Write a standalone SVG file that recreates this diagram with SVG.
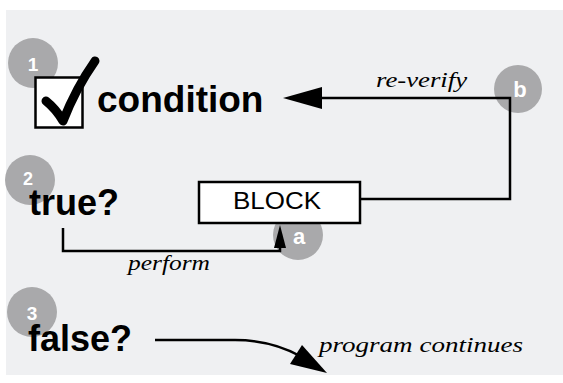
<svg xmlns="http://www.w3.org/2000/svg" width="563" height="383" viewBox="0 0 563 383">
  <style>
    .badge { fill: #a9a9ab; }
    .badge-text { fill: #ffffff; font-family: "Liberation Sans", Arial, sans-serif; font-weight: bold; text-anchor: middle; }
    .big { fill: #000; font-family: "Liberation Sans", Arial, sans-serif; font-weight: bold; }
    .label { fill: #000; font-family: "Liberation Serif", "Times New Roman", serif; font-style: italic; font-size: 22px; }
    .wire { fill: none; stroke: #000; stroke-width: 2.5; }
    .head { fill: #000; }
  </style>

  <!-- panel -->
  <rect x="6" y="10" width="557" height="365" fill="#eff0f2"/>

  <!-- step 1: condition -->
  <g id="condition">
    <circle class="badge" cx="33" cy="63" r="25"/>
    <text class="badge-text" x="33" y="71" font-size="19">1</text>
    <rect x="35.5" y="77.5" width="47" height="50" fill="#fff" stroke="#000" stroke-width="2.5"/>
    <path d="M46,101 Q56,109 63,121 Q76,88 95,61" fill="none" stroke="#000" stroke-width="9" stroke-linecap="round" stroke-linejoin="round"/>
    <text class="big" x="97" y="112" font-size="37">condition</text>
  </g>

  <!-- step 2: true? -->
  <g id="true">
    <circle class="badge" cx="30" cy="180" r="25"/>
    <text class="badge-text" x="28" y="185" font-size="18">2</text>
    <text class="big" x="29" y="215" font-size="36">true?</text>
  </g>

  <!-- marker a, partly behind the block -->
  <g id="marker-a">
    <circle class="badge" cx="298" cy="235" r="25"/>
    <text class="badge-text" x="299" y="244" font-size="22">a</text>
  </g>

  <!-- marker b -->
  <g id="marker-b">
    <circle class="badge" cx="518" cy="89" r="24"/>
    <text class="badge-text" x="520" y="97" font-size="22">b</text>
  </g>

  <!-- block -->
  <g id="block">
    <rect x="199" y="182" width="161" height="41" fill="#fff" stroke="#000" stroke-width="2.5"/>
    <text x="233" y="208.5" font-family="Liberation Sans, Arial, sans-serif" font-size="23.5" textLength="88" lengthAdjust="spacingAndGlyphs">BLOCK</text>
  </g>

  <!-- step 3: false? -->
  <g id="false">
    <circle class="badge" cx="32" cy="312" r="25"/>
    <text class="badge-text" x="32" y="320" font-size="19">3</text>
    <text class="big" x="28" y="351" font-size="36">false?</text>
  </g>

  <!-- connectors -->
  <g id="connectors">
    <!-- re-verify loop back to the condition -->
    <polyline class="wire" points="360,199 510,199 510,98 320,98"/>
    <polygon class="head" points="283,98 322,87 322,109"/>
    <text class="label" x="376" y="87" textLength="91" lengthAdjust="spacingAndGlyphs">re-verify</text>

    <!-- perform: true? into the block -->
    <polyline class="wire" points="63,228 63,251 280,251 280,244"/>
    <polygon class="head" points="280,225 286,248 274,248"/>
    <text class="label" x="128" y="270" textLength="82" lengthAdjust="spacingAndGlyphs">perform</text>

    <!-- program continues -->
    <path class="wire" d="M155,340 L235,340 C262,340 282,346 300,356"/>
    <polygon class="head" points="327,373 290,364 302,345"/>
    <text class="label" x="319" y="352" textLength="204" lengthAdjust="spacingAndGlyphs">program continues</text>
  </g>
</svg>
